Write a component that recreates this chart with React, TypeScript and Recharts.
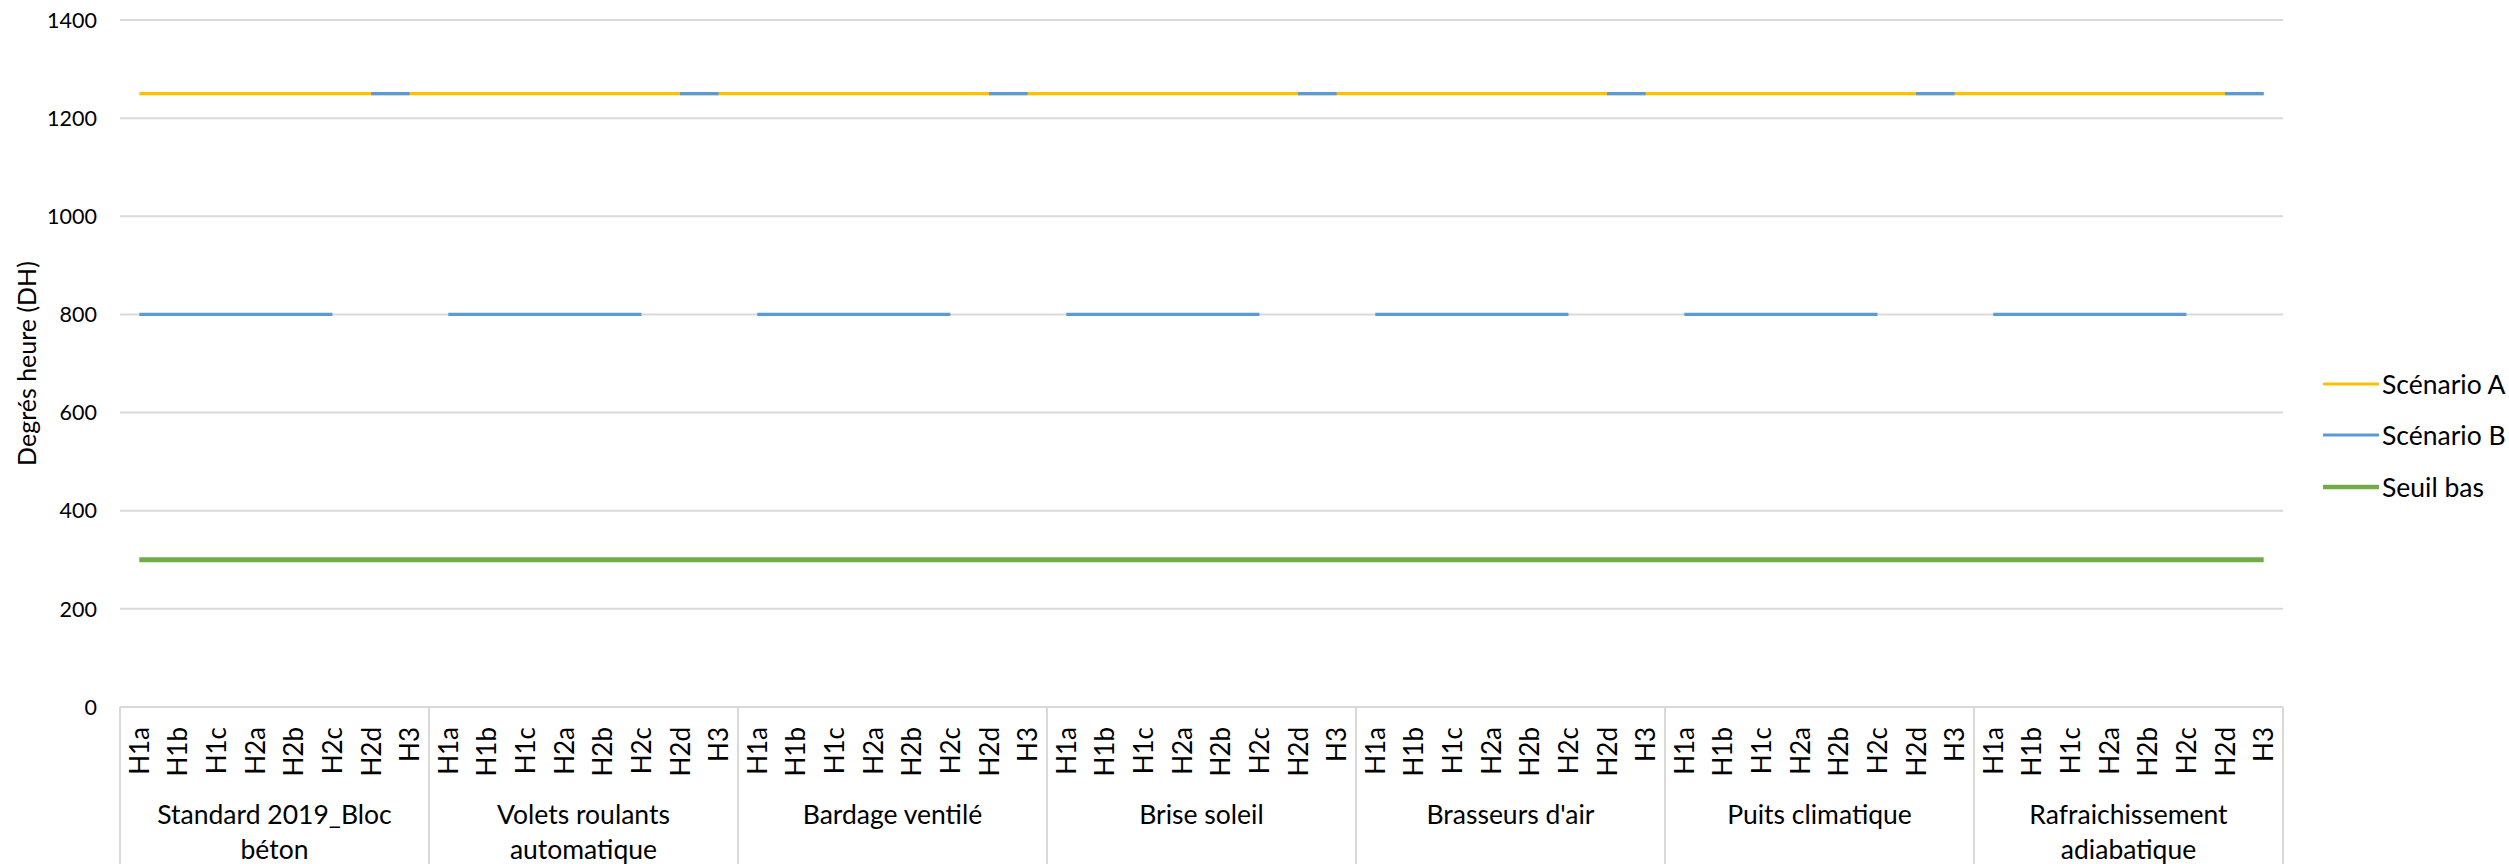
import { CartesianGrid, Legend, Line, LineChart, XAxis, YAxis } from "recharts";

// Sub-categories (climate zones) repeated under each solution
const zones = ["H1a", "H1b", "H1c", "H2a", "H2b", "H2c", "H2d", "H3"];

// Group labels, already split on the lines Excel wraps them to
const groupLabels = [
  ["Standard 2019_Bloc", "béton"],
  ["Volets roulants", "automatique"],
  ["Bardage ventilé"],
  ["Brise soleil"],
  ["Brasseurs d'air"],
  ["Puits climatique"],
  ["Rafraichissement", "adiabatique"],
];

const yTicks = [0, 200, 400, 600, 800, 1000, 1200, 1400];

// Series values, one row per group (H1a ... H3)
const scenarioA = [
  1250, 1250, 1250, 1250, 1250, 1250, 1250, 1250,
  1250, 1250, 1250, 1250, 1250, 1250, 1250, 1250,
  1250, 1250, 1250, 1250, 1250, 1250, 1250, 1250,
  1250, 1250, 1250, 1250, 1250, 1250, 1250, 1250,
  1250, 1250, 1250, 1250, 1250, 1250, 1250, 1250,
  1250, 1250, 1250, 1250, 1250, 1250, 1250, 1250,
  1250, 1250, 1250, 1250, 1250, 1250, 1250, 1250,
];

const scenarioB = [
  800, 800, 800, 800, 800, 800, null, null,
  800, 800, 800, 800, 800, 800, null, null,
  800, 800, 800, 800, 800, 800, null, null,
  800, 800, 800, 800, 800, 800, null, null,
  800, 800, 800, 800, 800, 800, null, null,
  800, 800, 800, 800, 800, 800, null, null,
  800, 800, 800, 800, 800, 800, null, null,
];

// Scenario B points for H2d / H3, drawn as their own segments (no joining line)
const scenarioBHaut = [
  null, null, null, null, null, null, 1250, 1250,
  null, null, null, null, null, null, 1250, 1250,
  null, null, null, null, null, null, 1250, 1250,
  null, null, null, null, null, null, 1250, 1250,
  null, null, null, null, null, null, 1250, 1250,
  null, null, null, null, null, null, 1250, 1250,
  null, null, null, null, null, null, 1250, 1250,
];

const seuilBas = [
  300, 300, 300, 300, 300, 300, 300, 300,
  300, 300, 300, 300, 300, 300, 300, 300,
  300, 300, 300, 300, 300, 300, 300, 300,
  300, 300, 300, 300, 300, 300, 300, 300,
  300, 300, 300, 300, 300, 300, 300, 300,
  300, 300, 300, 300, 300, 300, 300, 300,
  300, 300, 300, 300, 300, 300, 300, 300,
];

const data = groupLabels.flatMap((_, gi) =>
  zones.map((zone, zi) => {
    const i = gi * zones.length + zi;
    return {
      idx: i,
      zone,
      scenarioA: scenarioA[i],
      scenarioB: scenarioB[i],
      scenarioBHaut: scenarioBHaut[i],
      seuilBas: seuilBas[i],
    };
  })
);

// Layout
const WIDTH = 2509;
const HEIGHT = 864;
const Y_AXIS_W = 120;
const RIGHT = 226;
const TOP = 20;
const X_AXIS_H = 157;
const AXIS_Y = HEIGHT - X_AXIS_H;
const BAND = (WIDTH - Y_AXIS_W - RIGHT) / data.length;
const FONT = "Lato, 'Open Sans', sans-serif";
const GRID = "#d9d9d9";

const legendStyles: Record<string, { color: string; width: number }> = {
  "Scénario A": { color: "#FFC000", width: 3 },
  "Scénario B": { color: "#5B9BD5", width: 3 },
  "Seuil bas": { color: "#70AD47", width: 4.5 },
};

const YTick = ({ y, payload }: any) => (
  <text x={97} y={y} dy="0.36em" textAnchor="end" fontSize={21.5} fill="#000" fontFamily={FONT}>
    {payload.value}
  </text>
);

const CategoryTick = ({ x, payload }: any) => {
  const i = Number(payload.value);
  const zi = i % zones.length;
  const gi = Math.floor(i / zones.length);
  const tx = x + 9.5;
  const ty = AXIS_Y + 20;
  const groupLeft = x - BAND / 2;
  const lines = groupLabels[gi];
  return (
    <g>
      <text
        x={tx}
        y={ty}
        transform={`rotate(-90, ${tx}, ${ty})`}
        textAnchor="end"
        fontSize={26}
        fill="#000"
        fontFamily={FONT}
      >
        {zones[zi]}
      </text>
      {zi === 0 && (
        <>
          <line x1={groupLeft} x2={groupLeft} y1={AXIS_Y} y2={HEIGHT} stroke={GRID} strokeWidth={2} />
          {lines.map((ln, k) => (
            <text
              key={k}
              x={groupLeft + (BAND * zones.length) / 2}
              y={815 + k * 35}
              dy="0.35em"
              textAnchor="middle"
              fontSize={26.5}
              fill="#000"
              fontFamily={FONT}
            >
              {ln}
            </text>
          ))}
        </>
      )}
      {i === data.length - 1 && (
        <line x1={x + BAND / 2} x2={x + BAND / 2} y1={AXIS_Y} y2={HEIGHT} stroke={GRID} strokeWidth={2} />
      )}
    </g>
  );
};

const renderLegend = ({ payload }: any) => (
  <div style={{ fontFamily: FONT, fontSize: 26.5, color: "#000" }}>
    {(payload || [])
      .filter((p: any) => legendStyles[p.value])
      .map((p: any) => {
        const st = legendStyles[p.value];
        return (
          <div key={p.value} style={{ display: "flex", alignItems: "center", height: 51.5, whiteSpace: "nowrap" }}>
            <svg width={56} height={10} style={{ marginRight: 3 }}>
              <line x1={1} x2={55} y1={5} y2={5} stroke={st.color} strokeWidth={st.width} strokeLinecap="round" />
            </svg>
            <span>{p.value}</span>
          </div>
        );
      })}
  </div>
);

export default function App() {
  return (
    <div style={{ position: "absolute", left: 0, top: 0, width: WIDTH, height: HEIGHT, background: "#fff" }}>
      <LineChart width={WIDTH} height={HEIGHT} data={data} margin={{ top: TOP, right: RIGHT, bottom: 0, left: 0 }}>
        <CartesianGrid vertical={false} stroke={GRID} strokeWidth={2} />
        <XAxis
          dataKey="idx"
          type="category"
          interval={0}
          height={X_AXIS_H}
          padding={{ left: BAND / 2, right: BAND / 2 }}
          tickLine={false}
          axisLine={false}
          tick={<CategoryTick />}
        />
        <YAxis
          domain={[0, 1400]}
          ticks={yTicks}
          width={Y_AXIS_W}
          axisLine={false}
          tickLine={false}
          tick={<YTick />}
          label={{
            position: "insideLeft",
            content: ({ viewBox }: any) => {
              const cy = viewBox.y + viewBox.height / 2;
              return (
                <text
                  x={36}
                  y={cy}
                  transform={`rotate(-90, 36, ${cy})`}
                  textAnchor="middle"
                  fontSize={25}
                  fill="#000"
                  fontFamily={FONT}
                >
                  Degrés heure (DH)
                </text>
              );
            },
          }}
        />
        <Legend
          layout="vertical"
          align="center"
          verticalAlign="middle"
          content={renderLegend}
          wrapperStyle={{ position: "absolute", left: 2323, top: 358, width: 186 }}
        />
        <Line
          name="Scénario A"
          dataKey="scenarioA"
          stroke="#FFC000"
          strokeWidth={3.3}
          dot={false}
          activeDot={false}
          isAnimationActive={false}
        />
        <Line
          name="Scénario B"
          dataKey="scenarioB"
          stroke="#5B9BD5"
          strokeWidth={3.3}
          dot={false}
          activeDot={false}
          isAnimationActive={false}
        />
        <Line
          name="Scénario B (H2d-H3)"
          dataKey="scenarioBHaut"
          stroke="#5B9BD5"
          strokeWidth={3.3}
          dot={false}
          activeDot={false}
          legendType="none"
          isAnimationActive={false}
        />
        <Line
          name="Seuil bas"
          dataKey="seuilBas"
          stroke="#70AD47"
          strokeWidth={5}
          dot={false}
          activeDot={false}
          isAnimationActive={false}
        />
      </LineChart>
    </div>
  );
}
